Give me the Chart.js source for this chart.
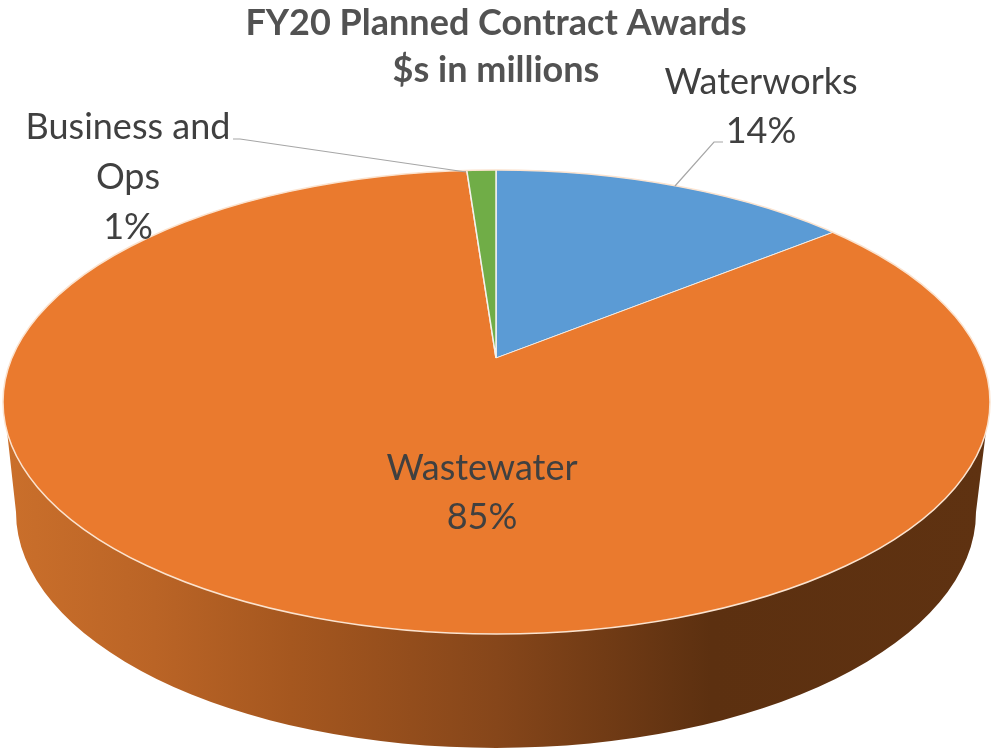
<!DOCTYPE html>
<html>
<head>
<meta charset="utf-8">
<script src="https://cdn.jsdelivr.net/npm/chart.js@4"></script>
<style>
    body { margin: 0; background: #fff; }
    canvas { display: block; }
</style>
</head>
<body>
<canvas id="awardsChart" width="992" height="753"></canvas>
<script>
// Values (printed labels are rounded)
const categories = ['Waterworks', 'Wastewater', 'Business and Ops'];
const shares = [13.9, 85, 1.1];
const printedShares = ['14%', '85%', '1%'];
const titleLines = ['FY20 Planned Contract Awards', '$s in millions'];
const sliceColors = ['#5b9bd5', '#ea7a2e', '#70ad47'];

// The picture is a tilted pie: a flat disc with a wall under it
const tilt = 0.445;
const apex = { x: 496, y: 358 };
const top3d = { x: 496.5, y: 402, rx: 493.5, ry: 232 };
const bottom3d = { x: 496, y: 512, rx: 480, ry: 236 };

// label text lines per slice and where they go
const labelSpots = [
    { lines: ['Waterworks', printedShares[0]], x: 761, y: [82, 131] },
    { lines: ['Wastewater', printedShares[1]], x: 482, y: [468, 517] },
    { lines: ['Business and', 'Ops', printedShares[2]], x: 128, y: [127, 177, 227] }
];
const leaderLines = [
    [[675, 186], [714, 142], [723, 142]],
    [[466, 172], [240, 139], [233, 139]]
];

const tiltedPie = {
    id: 'tiltedPie',
    beforeDatasetsDraw(chart) {
        const ctx = chart.ctx;

        // wall
        const wall = ctx.createLinearGradient(8, 0, 985, 0);
        wall.addColorStop(0, '#ca6f2b');
        wall.addColorStop(0.15, '#ba6426');
        wall.addColorStop(0.29, '#a5571f');
        wall.addColorStop(0.5, '#86461a');
        wall.addColorStop(0.72, '#5c3010');
        wall.addColorStop(1, '#5f3211');
        ctx.save();
        ctx.beginPath();
        ctx.moveTo(7, top3d.y + 29);
        ctx.lineTo(bottom3d.x - bottom3d.rx, bottom3d.y);
        ctx.ellipse(bottom3d.x, bottom3d.y, bottom3d.rx, bottom3d.ry, 0, Math.PI, 0, true);
        ctx.lineTo(986, top3d.y + 29);
        ctx.closePath();
        ctx.fillStyle = wall;
        ctx.fill();
        ctx.restore();

        // squeeze the slices and cut them to the disc
        ctx.save();
        ctx.beginPath();
        ctx.ellipse(top3d.x, top3d.y, top3d.rx, top3d.ry, 0, 0, Math.PI * 2);
        ctx.clip();
        ctx.translate(apex.x, apex.y);
        ctx.scale(1, tilt);
        ctx.translate(-apex.x, -apex.y);
    },
    afterDatasetsDraw(chart) {
        const ctx = chart.ctx;
        ctx.restore();

        ctx.save();
        ctx.beginPath();
        ctx.ellipse(top3d.x, top3d.y, top3d.rx, top3d.ry, 0, 0, Math.PI * 2);
        ctx.strokeStyle = '#fbe3cf';
        ctx.lineWidth = 1.5;
        ctx.stroke();

        ctx.strokeStyle = '#a6a6a6';
        ctx.lineWidth = 1.2;
        leaderLines.forEach(pts => {
            ctx.beginPath();
            pts.forEach((p, i) => i ? ctx.lineTo(p[0], p[1]) : ctx.moveTo(p[0], p[1]));
            ctx.stroke();
        });

        ctx.font = '36px Lato';
        ctx.fillStyle = '#404040';
        ctx.textAlign = 'center';
        ctx.textBaseline = 'middle';
        labelSpots.forEach(spot => {
            spot.lines.forEach((line, i) => ctx.fillText(line, spot.x, spot.y[i]));
        });
        ctx.restore();
    }
};

new Chart(document.getElementById('awardsChart').getContext('2d'), {
    type: 'pie',
    plugins: [tiltedPie],
    data: {
        labels: categories,
        datasets: [{
            data: shares,
            backgroundColor: sliceColors,
            borderColor: '#f4f1ec',
            borderWidth: 1.5,
            radius: 680,
            clip: false
        }]
    },
    options: {
        responsive: false,
        animation: false,
        events: [],
        layout: { padding: { bottom: 131 } },
        plugins: {
            legend: { display: false },
            tooltip: { enabled: false },
            title: {
                display: true,
                text: titleLines,
                color: '#525252',
                padding: 0,
                font: { family: 'Lato', size: 36, weight: 'bold', lineHeight: '47px' }
            }
        }
    }
});
</script>
</body>
</html>
